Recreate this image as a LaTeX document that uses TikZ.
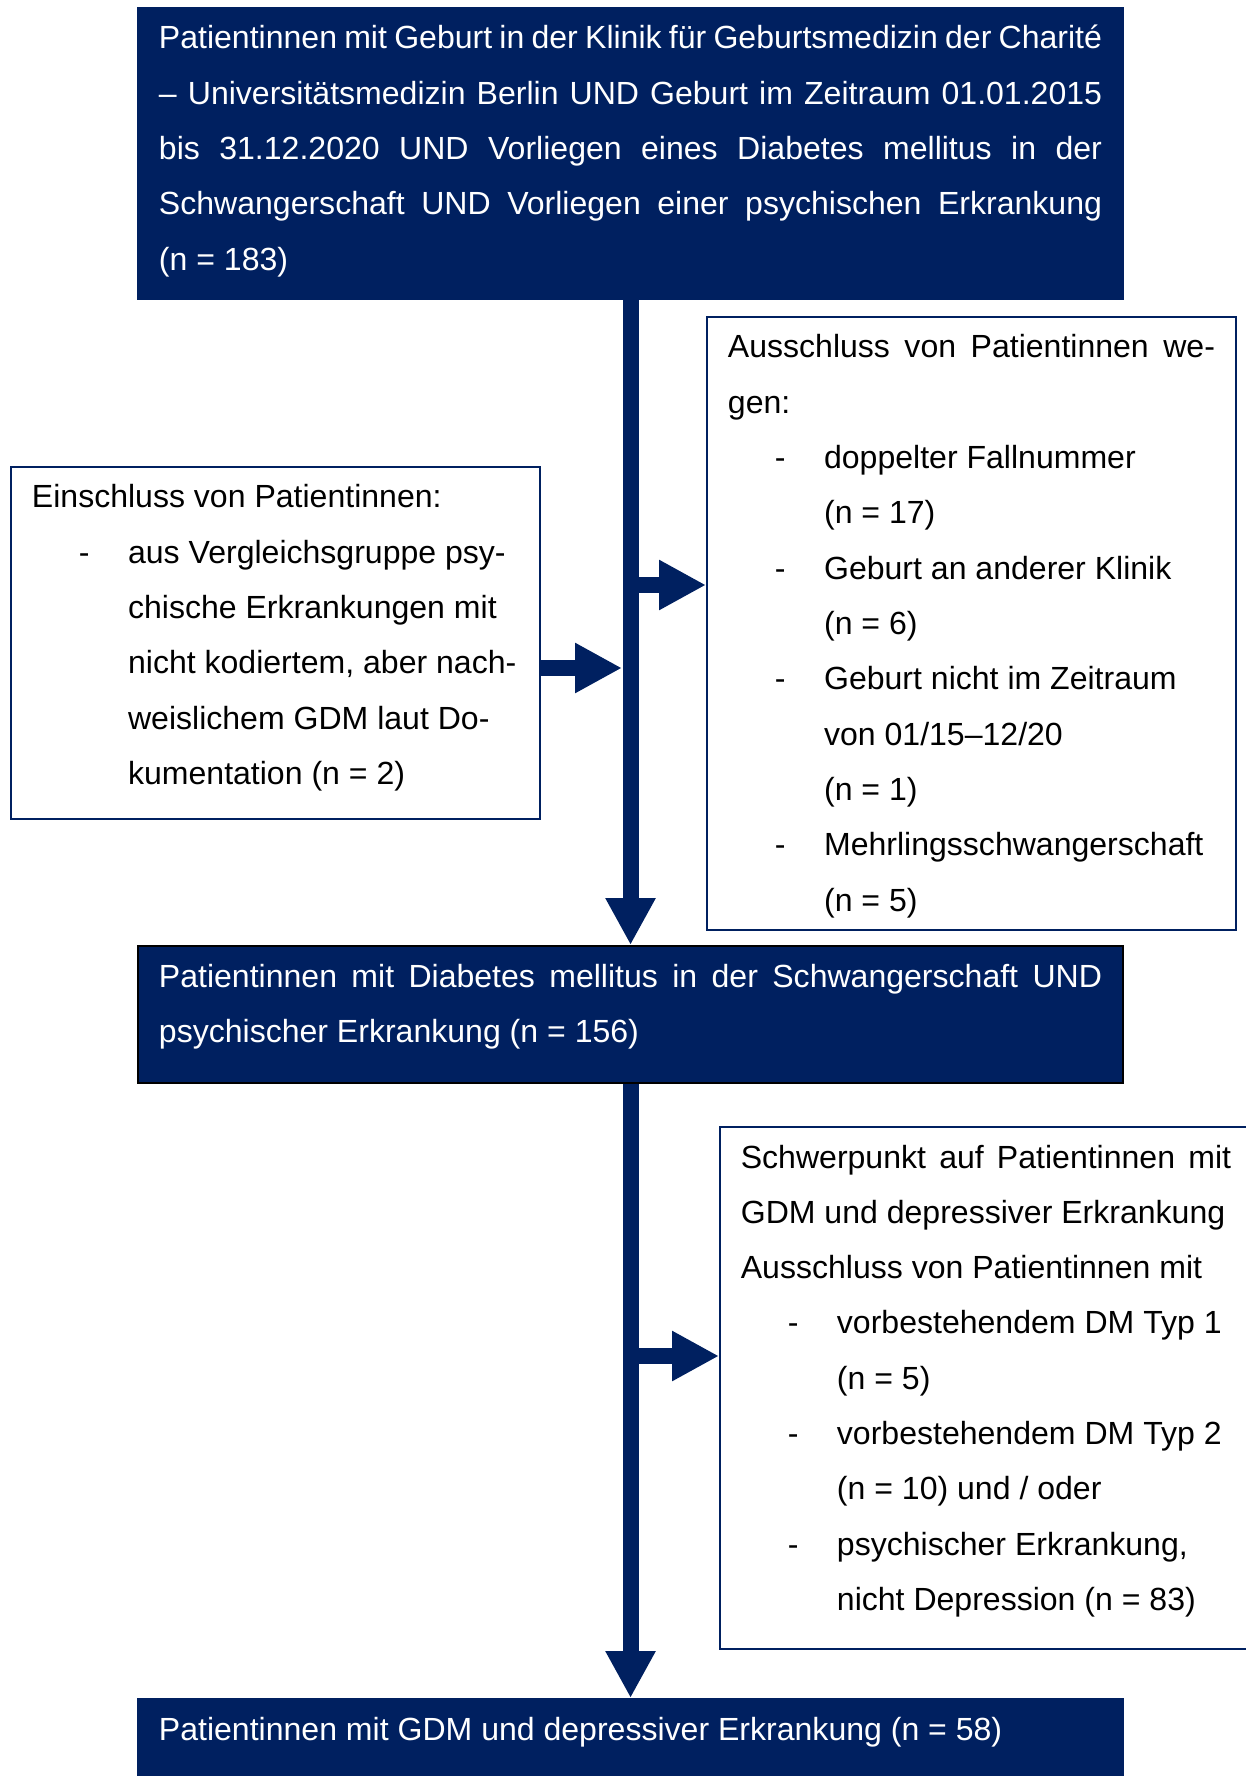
\documentclass[tikz,border=0pt]{standalone}
\usepackage{fontspec}
\setmainfont{Liberation Sans}
\usetikzlibrary{positioning,arrows.meta}
\definecolor{chnavy}{HTML}{002060}
\hyphenpenalty=10000
\exhyphenpenalty=10000
\tikzset{
  box/.style={rectangle, anchor=north west, inner xsep=7.6pt, inner ysep=0pt,
    text height=15.35pt, align=justify, font=\fontsize{12}{20.72}\selectfont},
  darkbox/.style={box, fill=chnavy, draw=chnavy, line width=0.75pt, text=white,
    minimum width=368.9pt, text width=353.2pt},
  whitebox/.style={box, fill=white, draw=chnavy, line width=0.75pt, text=black},
  flowarrow/.style={draw=chnavy, line width=6pt, -{Triangle[length=17.6pt,width=17.6pt]}}
}
\newcommand{\dashitem}[1]{\par{\raggedright\hangindent=36pt\hangafter=1
  \noindent\hspace*{17.6pt}\makebox[18.4pt][l]{-}#1\par}}

\begin{document}
\begin{tikzpicture}[x=0.3745pt,y=-0.3745pt]
  \useasboundingbox (0,0) rectangle (1245,1776);
  \node[darkbox, text depth=93.6pt] (top) at (137,7) {Patientinnen mit Geburt in der Klinik für Geburtsmedizin der Charité\linebreak
    – Universitätsmedizin Berlin UND Geburt im Zeitraum 01.01.2015\linebreak
    bis 31.12.2020 UND Vorliegen eines Diabetes mellitus in der\linebreak
    Schwangerschaft UND Vorliegen einer psychischen Erkrankung\linebreak
    (n = 183)};
  \node[whitebox, minimum width=198.1pt, text width=182.4pt, text depth=116.5pt] (incl) at (10,466) {Einschluss von Patientinnen:
    \dashitem{aus Vergleichsgruppe psy-\newline chische Erkrankungen mit\newline nicht kodiertem, aber nach-\newline weislichem GDM laut Do-\newline kumentation (n = 2)}};
  \node[whitebox, minimum width=198.1pt, text width=182.4pt, text depth=214.2pt] (excl1) at (706,316) {Ausschluss von Patientinnen we-\linebreak gen:
    \dashitem{doppelter Fallnummer\newline (n = 17)}
    \dashitem{Geburt an anderer Klinik\newline (n = 6)}
    \dashitem{Geburt nicht im Zeitraum\newline von 01/15–12/20\newline (n = 1)}
    \dashitem{Mehrlingsschwangerschaft\newline (n = 5)}};
  \node[darkbox, draw=black, text depth=36pt] (mid) at (137,945) {Patientinnen mit Diabetes mellitus in der Schwangerschaft UND\linebreak
    psychischer Erkrankung (n = 156)};
  \node[whitebox, minimum width=199.2pt, text width=183.6pt, text depth=180.1pt] (excl2) at (719,1126) {Schwerpunkt auf Patientinnen mit\linebreak
    GDM und depressiver Erkrankung\par
    Ausschluss von Patientinnen mit
    \dashitem{vorbestehendem DM Typ 1\newline (n = 5)}
    \dashitem{vorbestehendem DM Typ 2\newline (n = 10) und / oder}
    \dashitem{psychischer Erkrankung,\newline nicht Depression (n = 83)}};
  \node[darkbox, text depth=19.1pt] (final) at (137,1698) {Patientinnen mit GDM und depressiver Erkrankung (n = 58)};
  % connectors
  \coordinate (in1) at (622,668);
  \coordinate (out1) at (630,585);
  \coordinate (out2) at (630,1356);
  \draw[flowarrow] (top.south) -- (mid.north);
  \draw[flowarrow] (mid.south) -- (final.north);
  \draw[flowarrow] (incl.east |- in1) -- (in1);
  \draw[flowarrow] (out1) -- (out1 -| excl1.west);
  \draw[flowarrow] (out2) -- (out2 -| excl2.west);
\end{tikzpicture}
\end{document}
